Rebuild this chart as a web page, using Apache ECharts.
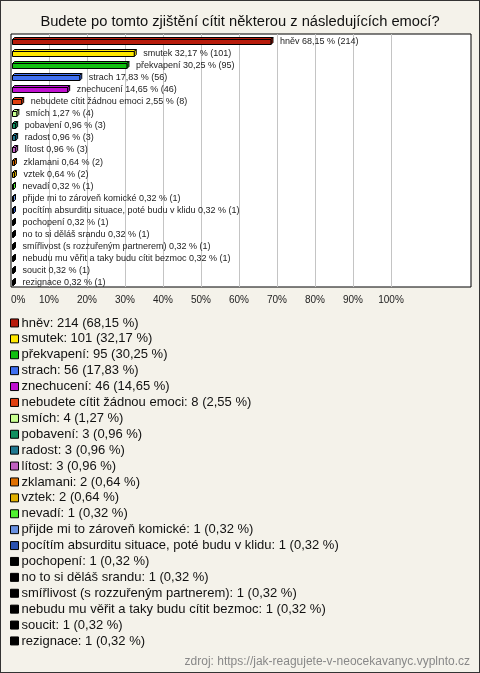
<!DOCTYPE html>
<html><head><meta charset="utf-8">
<script src="https://cdn.jsdelivr.net/npm/echarts@6/dist/echarts.min.js"></script>
<style>html,body{margin:0;padding:0;background:#f4f2ea}
#c{width:478px;height:671px;border:1px solid #333;}</style>
</head><body><div id="c"></div>
<script>
const titleText = 'Budete po tomto zjištění cítit některou z následujících emocí?';
const sourceText = 'zdroj: https://jak-reagujete-v-neocekavanyc.vyplnto.cz';
const categories = ['hněv','smutek','překvapení','strach','znechucení','nebudete cítit žádnou emoci','smích','pobavení','radost','lítost','zklamani','vztek','nevadí','přijde mi to zároveň komické','pocítím absurditu situace, poté budu v klidu','pochopení','no to si děláš srandu','smířlivost (s rozzuřeným partnerem)','nebudu mu věřit a taky budu cítit bezmoc','soucit','rezignace'];
const counts = [214,101,95,56,46,8,4,3,3,3,2,2,1,1,1,1,1,1,1,1,1];
const percents = [68.15,32.17,30.25,17.83,14.65,2.55,1.27,0.96,0.96,0.96,0.64,0.64,0.32,0.32,0.32,0.32,0.32,0.32,0.32,0.32,0.32];
const colors = ['#b81c0c','#ffe800','#10c010','#4070f0','#c010d0','#e04010','#c8ff90','#109060','#207890','#c060c0','#e07000','#e0b000','#50f030','#6890e0','#2850b0','#000000','#000000','#000000','#000000','#000000','#000000'];
const axisMin = 0, axisMax = 100, axisStep = 10;

const fmt = v => v.toFixed(2).replace('.', ',');
const FONT = '"Liberation Sans", Arial, sans-serif';

function renderItem(params, api) {
  const v = api.value(0), idx = api.value(1);
  const p0 = api.coord([0, idx]);
  const p1 = api.coord([v, idx]);
  const color = api.visual('color');
  const d = 2;
  const yc = Math.round(p0[1]);
  const top = yc - 0.5, bot = yc + 4.5;
  const x0 = Math.round(p0[0]) + 1.5;
  const x1 = Math.max(p1[0] + 1, x0 + 1);
  const st = {fill: color, stroke: '#000', lineWidth: 1};
  return {type: 'group', children: [
    {type: 'polygon', shape: {points: [[x0, top], [x0 + d, top - d], [x1 + d, top - d], [x1, top]]}, style: st},
    {type: 'polygon', shape: {points: [[x1, top], [x1 + d, top - d], [x1 + d, bot - d], [x1, bot]]}, style: st},
    {type: 'rect', shape: {x: x0, y: top, width: x1 - x0, height: bot - top}, style: st},
    {type: 'text', style: {x: x1 + d + 7, y: yc + 1.5, text: categories[idx] + ' ' + fmt(percents[idx]) + ' % (' + counts[idx] + ')', font: '9px ' + FONT, fill: '#222', verticalAlign: 'middle'}}
  ]};
}

const chart = echarts.init(document.getElementById('c'), null, {renderer: 'canvas'});
chart.setOption({
  animation: false,
  backgroundColor: '#f4f2ea',
  title: [
    {text: titleText, left: 'center', top: 13, padding: 0, textStyle: {fontSize: 14.7, fontWeight: 'normal', color: '#111', fontFamily: FONT}},
    {text: sourceText, right: 9, top: 655, padding: 0, textStyle: {fontSize: 12, fontWeight: 'normal', color: '#888', fontFamily: FONT}}
  ],
  legend: {
    orient: 'vertical', left: 9, top: 314, padding: 0, itemWidth: 8, itemHeight: 8, itemGap: 0,
    selectedMode: false, icon: 'rect', data: categories,
    itemStyle: {borderColor: '#000', borderWidth: 1},
    textStyle: {fontSize: 13, fontFamily: FONT, color: '#111', lineHeight: 15.9, padding: [0, 0, 0, -2]},
    formatter: name => { const i = categories.indexOf(name); return name + ': ' + counts[i] + ' (' + fmt(percents[i]) + ' %)'; }
  },
  grid: [
    {left: 10, top: 33, width: 460, height: 253, show: true, backgroundColor: '#fff', borderColor: '#000', borderWidth: 1},
    {left: 10, top: 33, width: 380, height: 253}
  ],
  xAxis: [
    {gridIndex: 0, type: 'value', show: false, min: 0, max: 1},
    {gridIndex: 1, type: 'value', min: axisMin, max: axisMax, interval: axisStep,
      axisLine: {show: false}, axisTick: {show: false},
      splitLine: {show: true, showMinLine: false, lineStyle: {color: '#c4c4c4', width: 1}},
      axisLabel: {formatter: '{value}%', fontSize: 10, color: '#222', margin: 8, fontFamily: FONT, alignMinLabel: 'left'}}
  ],
  yAxis: [
    {gridIndex: 0, type: 'value', show: false, min: 0, max: 1},
    {gridIndex: 1, type: 'category', data: categories, inverse: true,
      axisLine: {show: false}, axisTick: {show: false}, axisLabel: {show: false}, splitLine: {show: false}}
  ],
  series: categories.map((name, i) => ({
    type: 'custom', name: name, xAxisIndex: 1, yAxisIndex: 1,
    itemStyle: {color: colors[i]},
    encode: {x: 0, y: 1},
    renderItem: renderItem,
    data: [[percents[i], i]]
  }))
});
</script></body></html>
